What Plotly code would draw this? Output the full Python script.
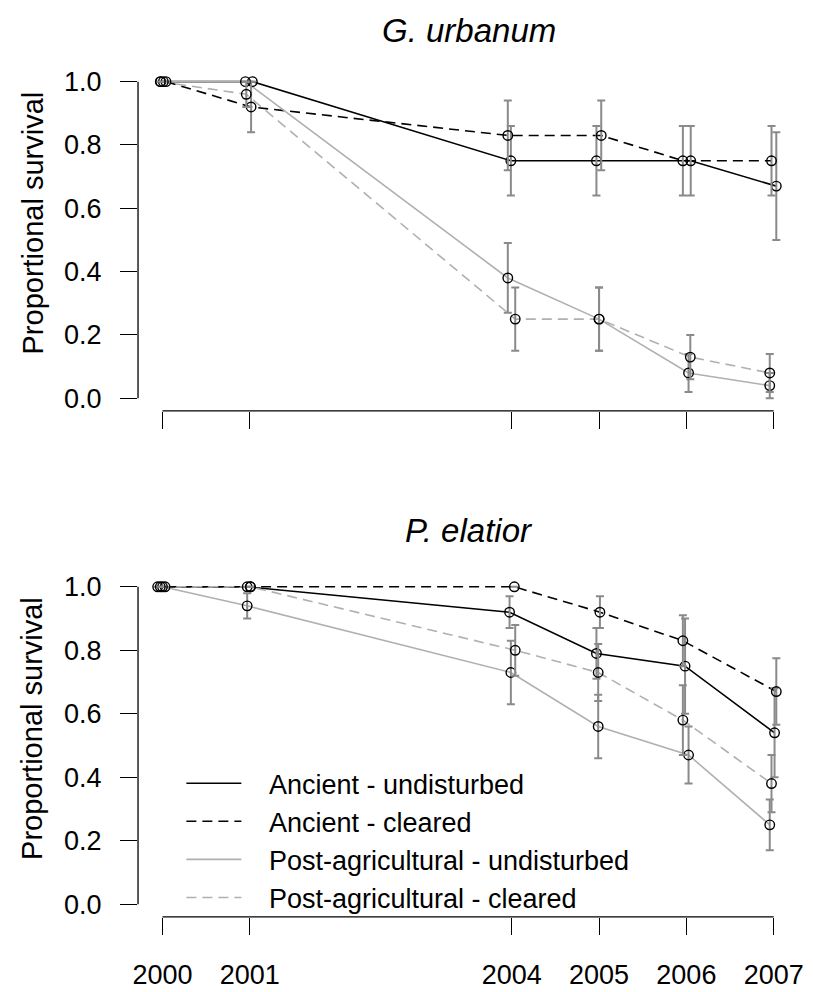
import plotly.graph_objects as go

# ---------------- data ----------------
years = [2000, 2001, 2004, 2005, 2006, 2007]
tick_years = [2000, 2001, 2004, 2005, 2006, 2007]
y_ticks = [0.0, 0.2, 0.4, 0.6, 0.8, 1.0]
y_tick_labels = ["0.0", "0.2", "0.4", "0.6", "0.8", "1.0"]

series_names = ["Ancient - undisturbed", "Ancient - cleared",
                "Post-agricultural - undisturbed", "Post-agricultural - cleared"]

# G. urbanum (top panel)
gu_anc_und = [1.0, 1.0, 0.75, 0.75, 0.75, 0.67]
gu_anc_clr = [1.0, 0.92, 0.83, 0.83, 0.75, 0.75]
gu_post_und = [1.0, 1.0, 0.38, 0.25, 0.08, 0.04]
gu_post_clr = [1.0, 0.96, 0.25, 0.25, 0.13, 0.08]
gu_anc_und_se = [0, 0, 0.11, 0.11, 0.11, 0.17]
gu_anc_clr_se = [0, 0.08, 0.11, 0.11, 0.11, 0.11]
gu_post_und_se = [0, 0, 0.11, 0.10, 0.06, 0.04]
gu_post_clr_se = [0, 0.04, 0.10, 0.10, 0.07, 0.06]
# small horizontal dodge of the points (years)
gu_anc_und_dx = [-0.02, 0.03, -0.01, -0.03, 0.05, 0.03]
gu_anc_clr_dx = [0.04, 0.015, -0.045, 0.025, -0.04, -0.025]
gu_post_und_dx = [0.01, -0.05, -0.045, 0.0, 0.025, -0.045]
gu_post_clr_dx = [-0.025, -0.04, 0.04, 0.0, 0.045, -0.045]

# P. elatior (bottom panel)
pe_anc_und = [1.0, 1.0, 0.92, 0.79, 0.75, 0.54]
pe_anc_clr = [1.0, 1.0, 1.0, 0.92, 0.83, 0.67]
pe_post_und = [1.0, 0.94, 0.73, 0.56, 0.47, 0.25]
pe_post_clr = [1.0, 1.0, 0.80, 0.73, 0.58, 0.38]
pe_anc_und_se = [0, 0, 0.05, 0.08, 0.15, 0.14]
pe_anc_clr_se = [0, 0, 0, 0.05, 0.08, 0.105]
pe_post_und_se = [0, 0.04, 0.10, 0.10, 0.09, 0.08]
pe_post_clr_se = [0, 0, 0.08, 0.09, 0.11, 0.09]
pe_anc_und_dx = [-0.055, -0.03, -0.025, -0.03, -0.015, 0.01]
pe_anc_clr_dx = [0.03, 0.007, 0.03, 0.01, -0.04, 0.03]
pe_post_und_dx = [0.0, -0.03, -0.01, -0.01, 0.025, -0.045]
pe_post_clr_dx = [-0.025, 0.007, 0.04, -0.01, -0.04, -0.025]

# ---------------- styles ----------------
BLACK = "#000000"
GREY = "#b0b0b0"
ERR = "#8a8a8a"
FONT = "Liberation Sans, Arial, sans-serif"
line_styles = [
    dict(color=BLACK, width=1.6, dash="solid"),
    dict(color=BLACK, width=1.6, dash="10px,6px"),
    dict(color=GREY, width=1.6, dash="solid"),
    dict(color=GREY, width=1.6, dash="10px,6px"),
]

panels = [
    dict(xa="x", ya="y",
         vals=[gu_anc_und, gu_anc_clr, gu_post_und, gu_post_clr],
         ses=[gu_anc_und_se, gu_anc_clr_se, gu_post_und_se, gu_post_clr_se],
         dxs=[gu_anc_und_dx, gu_anc_clr_dx, gu_post_und_dx, gu_post_clr_dx]),
    dict(xa="x2", ya="y2",
         vals=[pe_anc_und, pe_anc_clr, pe_post_und, pe_post_clr],
         ses=[pe_anc_und_se, pe_anc_clr_se, pe_post_und_se, pe_post_clr_se],
         dxs=[pe_anc_und_dx, pe_anc_clr_dx, pe_post_und_dx, pe_post_clr_dx]),
]

fig = go.Figure()

for p_i, p in enumerate(panels):
    # lines
    for s in range(4):
        xs = [yr + d for yr, d in zip(years, p["dxs"][s])]
        fig.add_trace(go.Scatter(
            x=xs, y=p["vals"][s], mode="lines", line=line_styles[s],
            xaxis=p["xa"], yaxis=p["ya"], showlegend=False, hoverinfo="skip"))
    # error bars + points
    for s in range(4):
        xs = [yr + d for yr, d in zip(years, p["dxs"][s])]
        err = [e if e > 0 else None for e in p["ses"][s]]
        fig.add_trace(go.Scatter(
            x=xs, y=p["vals"][s], mode="markers",
            marker=dict(symbol="circle-open", size=9.5, color=BLACK,
                        line=dict(width=1.4, color=BLACK)),
            error_y=dict(type="data", array=err, visible=True,
                         color=ERR, thickness=2, width=4),
            xaxis=p["xa"], yaxis=p["ya"], showlegend=False))

# legend entries (lines only, as in the reference)
NB = "\u00a0"
for s in range(4):
    fig.add_trace(go.Scatter(
        x=[None], y=[None], mode="lines", line=line_styles[s],
        name=NB * 3 + series_names[s], xaxis="x2", yaxis="y2", showlegend=True))

W, H = 813, 992
x_dom = [134 / W, 804 / W]
top_dom = [1 - 411 / H, 1 - 67.3 / H]
bot_dom = [1 - 919.5 / H, 1 - 575 / H]
x_range = [1999.72, 2007.28]
y_range = [-0.04, 1.04]

axis_common = dict(showgrid=False, zeroline=False, showline=False,
                   ticks="outside", ticklen=17, tickwidth=1.3,
                   tickcolor=BLACK, tickfont=dict(family=FONT, size=27, color=BLACK))

fig.update_layout(
    width=W, height=H,
    margin=dict(l=0, r=0, t=0, b=0),
    paper_bgcolor="white", plot_bgcolor="white",
    font=dict(family=FONT, color=BLACK),
    xaxis=dict(domain=x_dom, range=x_range, anchor="y",
               tickvals=tick_years, showticklabels=False, **axis_common),
    yaxis=dict(domain=top_dom, range=y_range, anchor="x",
               tickvals=y_ticks, ticktext=y_tick_labels,
               ticklabelstandoff=13, **axis_common),
    xaxis2=dict(domain=x_dom, range=x_range, anchor="y2",
                tickvals=tick_years, ticktext=[str(t) for t in tick_years],
                ticklabelstandoff=17, **axis_common),
    yaxis2=dict(domain=bot_dom, range=y_range, anchor="x2",
                tickvals=y_ticks, ticktext=y_tick_labels,
                ticklabelstandoff=13, **axis_common),
    legend=dict(x=178 / W, y=1 - 761 / H, xanchor="left", yanchor="top",
                bgcolor="rgba(0,0,0,0)", borderwidth=0,
                font=dict(family=FONT, size=27, color=BLACK),
                itemwidth=55, tracegroupgap=0),
    showlegend=True,
)

# R-style axis lines spanning only the tick range
for xa, ya in [("x", "y"), ("x2", "y2")]:
    fig.add_shape(type="line", xref=xa, yref=f"{ya} domain",
                  x0=tick_years[0], x1=tick_years[-1], y0=0, y1=0,
                  line=dict(color=BLACK, width=1.3))
    fig.add_shape(type="line", xref=f"{xa} domain", yref=ya,
                  x0=0, x1=0, y0=y_ticks[0], y1=y_ticks[-1],
                  line=dict(color=BLACK, width=1.3))

# panel titles and y-axis titles
titles = ["<i>G. urbanum</i>", "<i>P. elatior</i>"]
title_y = [29, 531]
ytitle_y = [222, 730]
for t, ty, yy in zip(titles, title_y, ytitle_y):
    fig.add_annotation(text=t, xref="paper", yref="paper",
                       x=470 / W, y=1 - ty / H, xanchor="center", yanchor="middle",
                       showarrow=False, font=dict(family=FONT, size=33, color=BLACK))
    fig.add_annotation(text="Proportional survival", xref="paper", yref="paper",
                       x=27 / W, y=1 - yy / H, xanchor="center", yanchor="middle",
                       textangle=-90, showarrow=False,
                       font=dict(family=FONT, size=29, color=BLACK))

fig.write_html("out.html")
